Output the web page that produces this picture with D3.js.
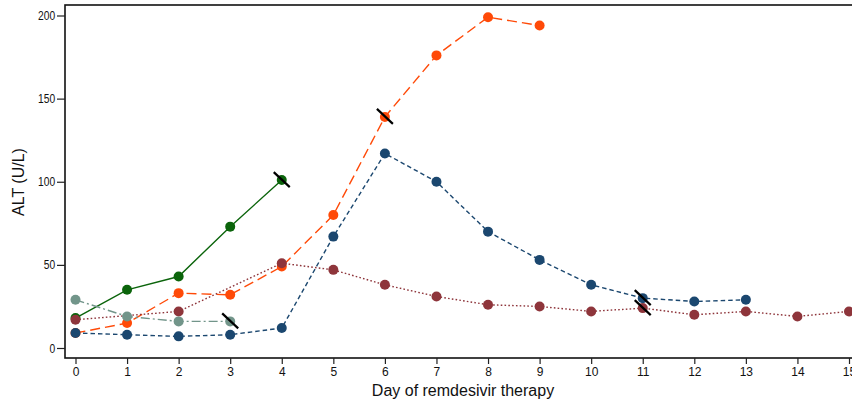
<!DOCTYPE html>
<html>
<head>
<meta charset="utf-8">
<script src="https://cdn.jsdelivr.net/npm/d3@7"></script>
<style>
  body { margin: 0; background: #fff; }
  svg { display: block; font-family: "Liberation Sans", Arial, sans-serif; }
</style>
</head>
<body>
<div id="viz"></div>
<script>
// values, day 0 .. day 15
const days = [0, 1, 2, 3, 4, 5, 6, 7, 8, 9, 10, 11, 12, 13, 14, 15];
const yTicks = [0, 50, 100, 150, 200];

const greenVals  = [18, 35, 43, 73, 101];
const greyVals   = [29, 19, 16, 16];
const orangeVals = [9, 15, 33, 32, 49, 80, 139, 176, 199, 194];
const blueVals   = [9, 8, 7, 8, 12, 67, 117, 100, 70, 53, 38, 30, 28, 29];
const maroonVals = [17, null, 22, null, 51, 47, 38, 31, 26, 25, 22, 24, 20, 22, 19, 22];

// day where the slash mark sits on each series
const greenCut  = [4];
const greyCut   = [3];
const orangeCut = [6];
const blueCut   = [11];
const maroonCut = [11];

const width = 852;
const height = 406;

const svg = d3.select("#viz").append("svg")
    .attr("width", width)
    .attr("height", height);

const plotLeft = 65, plotTop = 5, plotBottom = 358;

const xScale = d3.scaleLinear().domain([0, 15]).range([75.5, 849]);
const yScale = d3.scaleLinear().domain([0, 200]).range([348, 15.5]);

// series, in drawing order
const series = [
    { vals: greenVals,  cut: greenCut,  color: "#0b640b", dash: null },
    { vals: orangeVals, cut: orangeCut, color: "#ff4a08", dash: "10,5" },
    { vals: maroonVals, cut: maroonCut, color: "#8e353b", dash: "1.6,2.2" },
    { vals: greyVals,   cut: greyCut,   color: "#72958a", dash: "9,3,2,3" },
    { vals: blueVals,   cut: blueCut,   color: "#1b476f", dash: "4.5,3" }
];

// plot frame (runs off the right edge like the source)
svg.append("rect")
    .attr("x", plotLeft)
    .attr("y", plotTop)
    .attr("width", 900)
    .attr("height", plotBottom - plotTop)
    .attr("fill", "none")
    .attr("stroke", "#111")
    .attr("stroke-width", 1.6);

const yaxis = d3.axisLeft(yScale)
    .tickValues(yTicks)
    .tickSize(8)
    .tickPadding(4);

const xaxis = d3.axisBottom(xScale)
    .tickValues(days)
    .tickSize(6)
    .tickPadding(3);

const gy = svg.append("g")
    .attr("transform", "translate(" + plotLeft + ",0)")
    .call(yaxis);
gy.select(".domain").remove();
gy.selectAll("line").attr("stroke", "#222").attr("stroke-width", 1.2);
gy.selectAll("text")
    .attr("font-size", 12.5)
    .attr("fill", "#111")
    .attr("transform", "scale(0.82,1)");

const gx = svg.append("g")
    .attr("transform", "translate(0," + plotBottom + ")")
    .call(xaxis);
gx.select(".domain").remove();
gx.selectAll("line").attr("stroke", "#222").attr("stroke-width", 1.2);
gx.selectAll("text")
    .attr("font-size", 12)
    .attr("fill", "#111");

svg.append("text")
    .attr("x", -182)
    .attr("y", 24)
    .attr("transform", "rotate(-90)")
    .attr("text-anchor", "middle")
    .attr("font-size", 16)
    .attr("fill", "#111")
    .text("ALT (U/L)");

svg.append("text")
    .attr("x", 463)
    .attr("y", 396)
    .attr("text-anchor", "middle")
    .attr("font-size", 16)
    .attr("fill", "#111")
    .text("Day of remdesivir therapy");

const line = d3.line()
    .x(function(d) { return xScale(d.day); })
    .y(function(d) { return yScale(d.value); });

series.forEach(function(s) {
    const pts = s.vals
        .map(function(v, i) { return { day: days[i], value: v }; })
        .filter(function(d) { return d.value !== null; });

    const g = svg.append("g");

    g.append("path")
        .attr("d", line(pts))
        .attr("fill", "none")
        .attr("stroke", s.color)
        .attr("stroke-width", 1.4)
        .attr("stroke-dasharray", s.dash);

    g.selectAll("circle")
        .data(pts)
        .enter()
        .append("circle")
        .attr("cx", function(d) { return xScale(d.day); })
        .attr("cy", function(d) { return yScale(d.value); })
        .attr("r", 5)
        .attr("fill", s.color);

    s.cut.forEach(function(day) {
        const v = s.vals[days.indexOf(day)];
        const cx = xScale(day), cy = yScale(v);
        g.append("line")
            .attr("x1", cx - 8).attr("y1", cy - 8)
            .attr("x2", cx + 8).attr("y2", cy + 7)
            .attr("stroke", "#000")
            .attr("stroke-width", 2.2);
    });
});
</script>
</body>
</html>
